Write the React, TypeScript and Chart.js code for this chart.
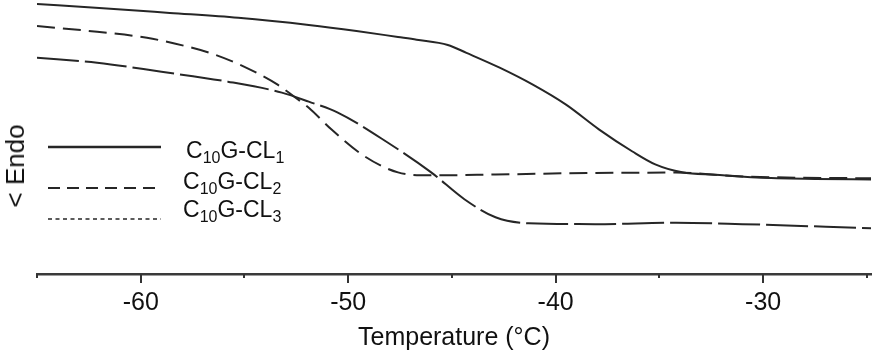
import React, { useEffect, useRef } from "react";
import { Chart, registerables } from "chart.js";

Chart.register(...registerables);

// ---- data (temperature in °C, heat-flow signal in arbitrary units, endo down) ----
const seriesNames = ["C10G-CL1", "C10G-CL2", "C10G-CL3"];

const cl1Temperature = [-65.0, -62.0, -58.6, -55.3, -51.9, -49.6, -47.6, -46.7, -45.2, -44.3, -42.7, -41.1, -39.5, -37.9, -36.3, -35.2, -33.9, -32.3, -30.3, -27.5, -24.8];
const cl1Signal = [98.5, 97.1, 95.3, 93.5, 90.9, 88.7, 86.5, 85.5, 83.6, 80.7, 75.3, 69.1, 61.8, 52.7, 44.7, 40.0, 37.1, 36.2, 35.2, 34.7, 34.5];

const cl2Temperature = [-65.0, -62.1, -59.7, -57.7, -56.4, -55.0, -53.4, -52.6, -51.9, -50.8, -49.2, -47.6, -46.0, -42.9, -38.1, -34.2, -31.0, -24.8];
const cl2Signal = [90.5, 88.4, 86.2, 82.9, 80.0, 75.6, 69.1, 64.7, 60.7, 52.7, 42.9, 37.1, 36.0, 36.3, 36.9, 37.0, 35.6, 34.9];

const cl3Temperature = [-65.0, -62.1, -59.0, -55.8, -53.2, -51.9, -50.5, -48.1, -46.0, -44.4, -42.9, -41.3, -38.1, -34.2, -31.0, -24.8];
const cl3Signal = [78.9, 77.1, 73.8, 70.2, 66.2, 62.9, 58.9, 48.0, 37.1, 27.3, 20.7, 18.5, 18.2, 18.7, 18.2, 16.7];

const xTickLabels = [-60, -50, -40, -30];
const xMin = -65;
const xMax = -24.8;
const tickStep = 5;
const yAxisLabel = "< Endo";
const xAxisLabel = "Temperature (°C)";

// ---- styles ----
const FONT = '"Liberation Sans", Arial, Helvetica, sans-serif';
const INK = "#262626";
const lineDashes: number[][] = [[], [18, 8], [42, 6]];
const legendDashes: number[][] = [[], [12, 7], [4, 3.5]];
const legendWidths = [2.6, 2, 1.3];
const legendLineY = [147, 188, 219];
const legendLineX = [48, 161];
const legendTextPos = [
  { left: 186, baseline: 158 },
  { left: 183, baseline: 189 },
  { left: 183, baseline: 217 },
];

function toPoints(xs: number[], ys: number[]) {
  return xs.map((x, i) => ({ x, y: ys[i] }));
}

const tickAndLegendPlugin = {
  id: "tickAndLegend",
  afterDraw(chart: any) {
    const ctx = chart.ctx as CanvasRenderingContext2D;
    const xs = chart.scales.x;
    const bottom = chart.chartArea.bottom;
    ctx.save();
    ctx.strokeStyle = "#333";
    ctx.lineWidth = 2;
    ctx.setLineDash([]);
    for (let v = xMin; v <= xMax + 1e-6; v += tickStep) {
      const px = Math.round(xs.getPixelForValue(v));
      const len = xTickLabels.includes(v) ? 9 : 4;
      ctx.beginPath();
      ctx.moveTo(px, bottom);
      ctx.lineTo(px, bottom + len);
      ctx.stroke();
    }
    // legend sample lines
    ctx.strokeStyle = INK;
    legendLineY.forEach((y, i) => {
      ctx.lineWidth = legendWidths[i];
      ctx.setLineDash(legendDashes[i]);
      ctx.beginPath();
      ctx.moveTo(legendLineX[0], y);
      ctx.lineTo(legendLineX[1], y);
      ctx.stroke();
    });
    ctx.restore();
  },
};

function SubLabel({ text, size }: { text: string; size: number }) {
  const parts = text.split(/(\d+)/);
  return (
    <>
      {parts.map((p, i) =>
        i % 2 === 1 ? (
          <span key={i} style={{ fontSize: Math.round(size * 0.68), position: "relative", top: 5 }}>
            {p}
          </span>
        ) : (
          <span key={i}>{p}</span>
        )
      )}
    </>
  );
}

export default function App() {
  const canvasRef = useRef<HTMLCanvasElement | null>(null);

  useEffect(() => {
    if (!canvasRef.current) return;
    const chart = new Chart(canvasRef.current, {
      type: "line",
      data: {
        datasets: [
          { label: seriesNames[0], data: toPoints(cl1Temperature, cl1Signal), borderDash: lineDashes[0] },
          { label: seriesNames[1], data: toPoints(cl2Temperature, cl2Signal), borderDash: lineDashes[1] },
          { label: seriesNames[2], data: toPoints(cl3Temperature, cl3Signal), borderDash: lineDashes[2] },
        ].map((d) => ({
          ...d,
          borderColor: INK,
          borderWidth: 2,
          pointRadius: 0,
          fill: false,
          cubicInterpolationMode: "monotone" as const,
        })),
      },
      options: {
        animation: false,
        responsive: true,
        maintainAspectRatio: false,
        layout: { padding: { left: 37, right: 0, top: 0, bottom: 1 } },
        plugins: { legend: { display: false }, tooltip: { enabled: false } },
        scales: {
          x: {
            type: "linear",
            min: xMin,
            max: xMax,
            grid: {
              display: true,
              drawOnChartArea: false,
              drawTicks: true,
              tickLength: 9,
              color: "transparent",
              tickColor: "transparent",
            },
            border: { display: true, color: "#3a3a3a", width: 2.5 },
            ticks: {
              stepSize: tickStep,
              autoSkip: false,
              maxRotation: 0,
              padding: 5,
              color: "#111",
              font: { family: FONT, size: 25 },
              callback: (v: any) => (xTickLabels.includes(Number(v)) ? String(v) : ""),
            },
            title: {
              display: true,
              text: xAxisLabel,
              color: "#111",
              font: { family: FONT, size: 25 },
              padding: { top: 0, bottom: 0 },
            },
          },
          y: { display: false, min: 0, max: 100 },
        },
      },
      plugins: [tickAndLegendPlugin],
    });
    return () => chart.destroy();
  }, []);

  const legendFont = 23;
  return (
    <div style={{ position: "fixed", left: 0, top: 0, width: 876, height: 354, background: "#fff" }}>
      <canvas ref={canvasRef} />
      <div
        style={{
          position: "absolute",
          left: 15,
          top: 166,
          transform: "translate(-50%, -50%) rotate(-90deg)",
          font: `26px ${FONT}`,
          color: "#111",
          whiteSpace: "nowrap",
          lineHeight: 1,
        }}
      >
        {yAxisLabel}
      </div>
      {seriesNames.map((name, i) => (
        <div
          key={name}
          style={{
            position: "absolute",
            left: legendTextPos[i].left,
            top: legendTextPos[i].baseline - 0.8465 * legendFont,
            fontFamily: FONT,
            fontSize: legendFont,
            lineHeight: 1,
            color: "#111",
            whiteSpace: "nowrap",
          }}
        >
          <SubLabel text={name} size={legendFont} />
        </div>
      ))}
    </div>
  );
}
